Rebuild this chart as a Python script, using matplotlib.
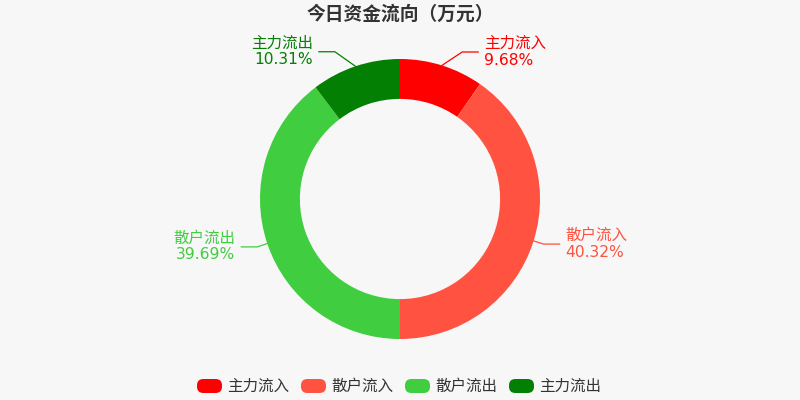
import numpy as np
import matplotlib
matplotlib.use("Agg")
import matplotlib.pyplot as plt
from matplotlib.patches import FancyBboxPatch

plt.rcParams['font.family'] = ['DejaVu Sans', 'Noto Sans CJK SC']

title = "今日资金流向（万元）"
categories = ["主力流入", "散户流入", "散户流出", "主力流出"]
values = [9.68, 40.32, 39.69, 10.31]
colors = ["#ff0000", "#ff5240", "#40cd40", "#037f03"]

# label-line styling (elbow radius and angular nudge, degrees)
elbow_r = [1.14, 1.075, 1.075, 1.15]
elbow_nudge = [5.5, 0, 0, -5.3]

BG = "#f7f7f7"
fig = plt.figure(figsize=(8, 4), dpi=100, facecolor=BG)

W, H = 800, 400
cx, cy, R = 400, 199, 140
ax = fig.add_axes([(cx - R) / W, (H - cy - R) / H, 2 * R / W, 2 * R / H])
ax.set_facecolor(BG)
ax.axis('off')

wedges, _ = ax.pie(values, colors=colors, startangle=90, counterclock=False,
                   radius=1.0, wedgeprops=dict(width=0.285, linewidth=0))
ax.set_xlim(-1, 1)
ax.set_ylim(-1, 1)
ax.set_aspect('equal')

total = sum(values)
cum = 0
px = 1.0 / R
for cat, v, c, r2, nd in zip(categories, values, colors, elbow_r, elbow_nudge):
    mid = (cum + v / 2) / total * 2 * np.pi
    cum += v
    sx, sy = np.sin(mid), np.cos(mid)
    a2 = mid + np.deg2rad(nd)
    ex, ey = r2 * np.sin(a2), r2 * np.cos(a2)
    side = 1 if sx >= 0 else -1
    hx = ex + side * 16 * px
    ax.plot([sx, ex, hx], [sy, ey, ey], color=c, lw=0.9, clip_on=False)
    tx = hx + side * 6 * px
    ha = 'left' if side > 0 else 'right'
    ax.text(tx, ey + 8.5 * px, cat, color=c, fontsize=11.2, ha=ha, va='center', clip_on=False)
    ax.text(tx, ey - 8 * px, f"{v:.2f}%", color=c, fontsize=11.2, ha=ha, va='center', clip_on=False)

fig.text(0.5, 1 - 14 / H, title, ha='center', va='center', fontsize=13.5,
         fontweight='bold', color='#333333', family=['Noto Sans CJK SC', 'DejaVu Sans'])

# legend
lx0, step, ly = 197, 104, 386
bw, bh = 25, 14
for i, (cat, c) in enumerate(zip(categories, colors)):
    x = lx0 + i * step
    box = FancyBboxPatch((x / W, (H - ly - bh / 2) / H), bw / W, bh / H,
                         boxstyle="round,pad=0,rounding_size=0.008",
                         transform=fig.transFigure, facecolor=c, edgecolor='none',
                         mutation_aspect=2)
    fig.add_artist(box)
    fig.text((x + bw + 5) / W, 1 - ly / H, cat, ha='left', va='center',
             fontsize=11.2, color='#333333')

fig.savefig("out.png", dpi=100, facecolor=BG)
